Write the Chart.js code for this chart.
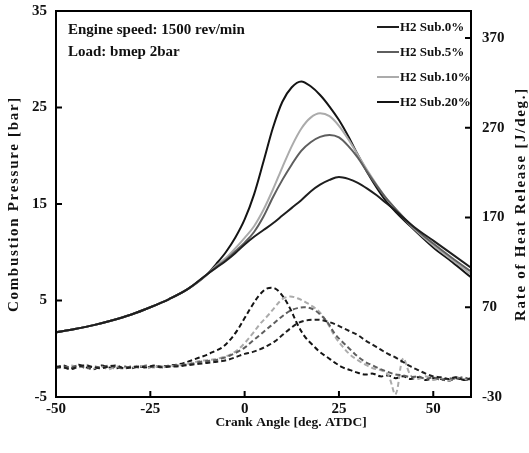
<!DOCTYPE html>
<html>
<head>
<meta charset="utf-8">
<script src="https://cdn.jsdelivr.net/npm/chart.js@4.4.1/dist/chart.umd.min.js"></script>
<style>
  html, body { margin: 0; padding: 0; background: #fff; }
  #wrap { width: 529px; height: 453px; }
</style>
</head>
<body>
<div id="wrap"><canvas id="chart" width="529" height="453"></canvas></div>
<script>
// crank angle for the pressure traces
const pAngles = [-50, -45, -40, -35, -30, -25, -20, -15, -10, -7.5, -5, -2.5, 0, 2.5, 5, 7.5, 10,
  12.5, 15, 17.5, 20, 22.5, 25, 27.5, 30, 32.5, 35, 37.5, 40, 45, 50, 55, 60];

// combustion pressure [bar]
const pSub0 = [1.7, 2.05, 2.45, 2.95, 3.55, 4.3, 5.15, 6.2, 7.7, 8.4, 9.1, 9.9, 10.8, 11.6, 12.3, 13.0, 13.8,
  14.6, 15.4, 16.3, 17.0, 17.5, 17.8, 17.6, 17.2, 16.6, 15.9, 15.1, 14.3, 12.6, 11.2, 9.8, 8.4];
const pSub5 = [1.7, 2.05, 2.45, 2.95, 3.55, 4.3, 5.15, 6.2, 7.7, 8.5, 9.2, 10.1, 11.0, 12.1, 13.7, 15.7, 17.5,
  19.1, 20.5, 21.4, 21.95, 22.15, 21.9, 21.0, 19.8, 18.3, 16.9, 15.6, 14.5, 12.5, 10.9, 9.4, 8.0];
const pSub10 = [1.7, 2.05, 2.45, 2.95, 3.55, 4.3, 5.15, 6.2, 7.7, 8.6, 9.4, 10.4, 11.5, 12.7, 14.4, 16.5, 18.8,
  21.0, 22.8, 23.95, 24.4, 24.1, 23.1, 21.7, 20.1, 18.5, 17.0, 15.6, 14.5, 12.4, 10.7, 9.2, 7.7];
const pSub20 = [1.7, 2.05, 2.45, 2.95, 3.55, 4.3, 5.15, 6.2, 7.7, 8.8, 10.0, 11.5, 13.4, 16.0, 19.4, 22.9, 25.6,
  27.1, 27.7, 27.2, 26.3, 25.1, 23.7, 22.0, 20.1, 18.3, 16.7, 15.3, 14.2, 12.3, 10.5, 9.0, 7.4];

// crank angle for the heat release traces
const hAngles = [-50, -48, -46, -44, -42, -40, -38, -36, -34, -32, -30, -28, -26, -24, -22, -20, -18, -16,
  -14, -12, -10, -8, -6, -4, -2, 0, 2, 4, 6, 8, 10, 12, 14, 16, 18, 20, 22, 24, 26, 28, 30, 32, 34, 36,
  38, 40, 42, 44, 46, 48, 50, 52, 54, 56, 58, 60];

// rate of heat release [J/deg.]
const hSub0 = [4, 3, 1, 4, 5, 3, 2, 4, 5, 2, 3, 4, 3, 5, 3, 4, 4, 5,
  6, 7, 8, 9, 10, 12, 15, 18, 20, 23, 27, 32, 39, 46, 52, 55, 56, 56, 54, 51, 47, 43, 39, 33, 28, 23,
  18, 14, 9, 4, 0, -4, -7, -8, -10, -8, -11, -9];
const hSub5 = [2, 4, 3, 5, 2, 4, 3, 5, 3, 2, 4, 3, 5, 3, 4, 4, 5, 6,
  7, 9, 10, 11, 13, 16, 20, 25, 32, 39, 46, 53, 60, 66, 69, 70, 68, 62, 53, 40, 31, 23, 15, 9, 5, 1,
  -2, -5, -6, -8, -7, -10, -8, -11, -9, -10, -8, -11];
const hSub10 = [4, 2, 5, 3, 6, 2, 4, 1, 4, 3, 3, 5, 2, 4, 3, 4, 5, 6,
  8, 10, 11, 12, 14, 17, 22, 30, 40, 51, 60, 70, 79, 82, 80, 76, 71, 64, 52, 37, 26, 17, 11, 6, 2, 0,
  -5, -27, 13, -6, -10, -7, -11, -9, -12, -8, -10, -9];
const hSub20 = [3, 5, 2, 6, 3, 1, 5, 3, 2, 4, 2, 4, 3, 4, 4, 5, 6, 8,
  11, 14, 17, 21, 25, 33, 44, 58, 72, 84, 91, 91, 83, 69, 51, 37, 28, 20, 14, 8, 3, 0, -3, -5, -4, -7,
  -6, -9, -7, -10, -8, -11, -9, -10, -12, -9, -11, -10];

const xTicks = [-50, -25, 0, 25, 50];
const pTicks = [-5, 5, 15, 25, 35];
const hTicks = [-30, 70, 170, 270, 370];

const seriesNames = ['H2 Sub.0%', 'H2 Sub.5%', 'H2 Sub.10%', 'H2 Sub.20%'];
const seriesColors = ['#1e1e1e', '#5e5e5e', '#ababab', '#141414'];

const SERIF = "'Liberation Serif', 'Times New Roman', serif";

function pts(xs, ys) {
  return xs.map((x, i) => ({ x: x, y: ys[i] }));
}

const pressureSets = [pSub0, pSub5, pSub10, pSub20].map((arr, i) => ({
  label: seriesNames[i],
  data: pts(pAngles, arr),
  yAxisID: 'yP',
  borderColor: seriesColors[i],
  borderWidth: 2,
  pointRadius: 0,
  cubicInterpolationMode: 'monotone',
  fill: false
}));

const hrrSets = [hSub0, hSub5, hSub10, hSub20].map((arr, i) => ({
  label: seriesNames[i] + ' HRR',
  data: pts(hAngles, arr),
  yAxisID: 'yH',
  borderColor: seriesColors[i],
  borderWidth: 2,
  borderDash: [5, 3],
  pointRadius: 0,
  tension: 0.35,
  fill: false
}));

function fixTicks(list) {
  return (scale) => { scale.ticks = list.map(v => ({ value: v })); };
}

// fixed box sizes, no extra room for overhanging labels
function fitBox(w, h) {
  return (s) => {
    if (w) s.width = w;
    if (h) s.height = h;
    s.paddingTop = 0; s.paddingBottom = 0;
    s.paddingLeft = 0; s.paddingRight = 0;
  };
}

// frame, inward tick marks, titles, legend and annotation text
const decorations = {
  id: 'decorations',
  afterDraw(chart) {
    const ctx = chart.ctx;
    const a = chart.chartArea;
    const sx = chart.scales.x, sp = chart.scales.yP, sh = chart.scales.yH;
    ctx.save();
    ctx.strokeStyle = '#000';
    ctx.lineWidth = 2;
    ctx.strokeRect(a.left, a.top, a.right - a.left, a.bottom - a.top);

    ctx.beginPath();
    xTicks.forEach(v => {
      const px = sx.getPixelForValue(v);
      ctx.moveTo(px, a.bottom); ctx.lineTo(px, a.bottom - 6);
    });
    pTicks.forEach(v => {
      const py = sp.getPixelForValue(v);
      ctx.moveTo(a.left, py); ctx.lineTo(a.left + 6, py);
    });
    hTicks.forEach(v => {
      const py = sh.getPixelForValue(v);
      ctx.moveTo(a.right, py); ctx.lineTo(a.right - 6, py);
    });
    ctx.stroke();

    ctx.fillStyle = '#111';
    ctx.textBaseline = 'middle';
    ctx.textAlign = 'center';
    ctx.font = 'bold 13.5px ' + SERIF;
    ctx.fillText('Crank Angle [deg. ATDC]', 291, 423);

    ctx.font = 'bold 15px ' + SERIF;
    ctx.letterSpacing = '1.7px';
    const midY = (a.top + a.bottom) / 2;
    ctx.save();
    ctx.translate(14, midY);
    ctx.rotate(-Math.PI / 2);
    ctx.fillText('Combustion Pressure [bar]', 0, 0);
    ctx.restore();

    ctx.save();
    ctx.translate(521, midY);
    ctx.rotate(-Math.PI / 2);
    ctx.fillText('Rate of Heat Release [J/deg.]', 0, 0);
    ctx.restore();
    ctx.letterSpacing = '0px';

    ctx.textAlign = 'left';
    ctx.fillText('Engine speed: 1500 rev/min', 68, 30);
    ctx.fillText('Load: bmep 2bar', 68, 52);

    ctx.font = 'bold 13px ' + SERIF;
    seriesNames.forEach((name, i) => {
      const y = 27 + i * 25;
      ctx.strokeStyle = seriesColors[i];
      ctx.lineWidth = 2;
      ctx.beginPath();
      ctx.moveTo(377, y); ctx.lineTo(399, y);
      ctx.stroke();
      ctx.fillStyle = '#111';
      ctx.fillText(name, 400, y + 1);
    });
    ctx.restore();
  }
};

const tickFont = { family: SERIF, size: 15, weight: 'bold' };

new Chart(document.getElementById('chart'), {
  type: 'line',
  data: { datasets: [...hrrSets, ...pressureSets] },
  options: {
    responsive: false,
    animation: false,
    devicePixelRatio: 1,
    layout: { padding: { top: 11, left: 0, right: 0, bottom: 0 } },
    plugins: { legend: { display: false }, tooltip: { enabled: false } },
    scales: {
      x: {
        type: 'linear',
        position: 'bottom',
        min: -50, max: 60,
        afterBuildTicks: fixTicks(xTicks),
        afterFit: fitBox(0, 56),
        grid: { display: false, drawTicks: false },
        border: { display: false },
        ticks: { color: '#111', font: tickFont, padding: 3, maxRotation: 0 }
      },
      yP: {
        type: 'linear',
        position: 'left',
        min: -5, max: 35,
        afterBuildTicks: fixTicks(pTicks),
        afterFit: fitBox(56, 0),
        grid: { display: false, drawTicks: false },
        border: { display: false },
        ticks: { color: '#111', font: tickFont, padding: 9 }
      },
      yH: {
        type: 'linear',
        position: 'right',
        min: -30, max: 400,
        afterBuildTicks: fixTicks(hTicks),
        afterFit: fitBox(58, 0),
        grid: { display: false, drawTicks: false },
        border: { display: false },
        ticks: { color: '#111', font: tickFont, padding: 11 }
      }
    }
  },
  plugins: [decorations]
});
</script>
</body>
</html>
